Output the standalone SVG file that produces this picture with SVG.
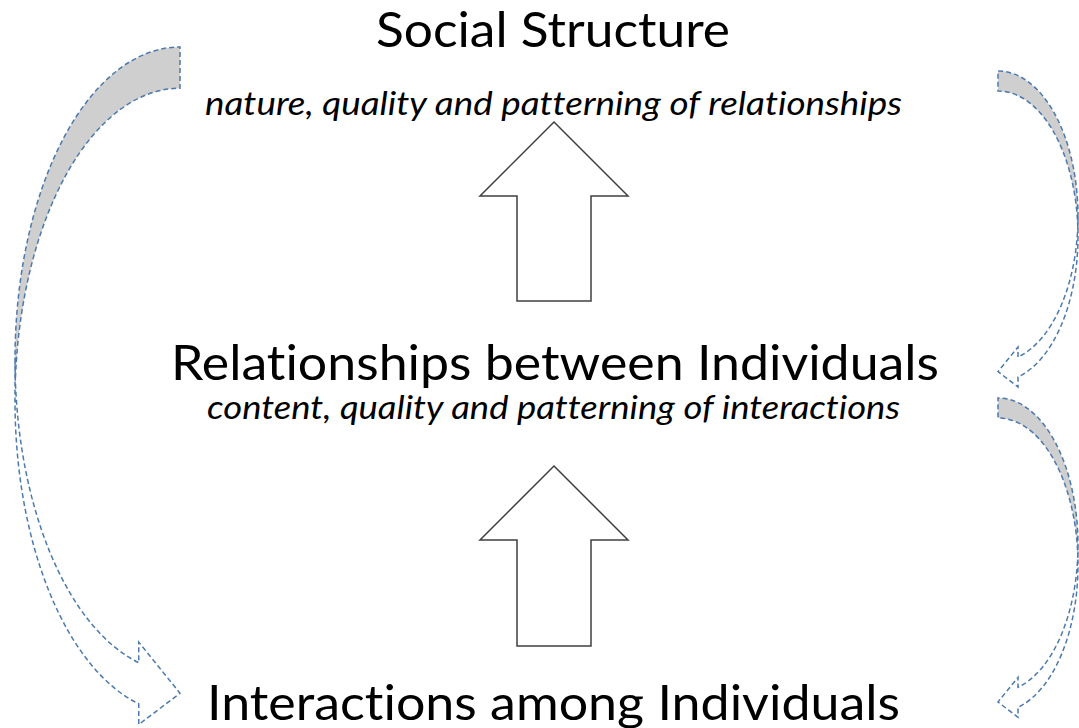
<svg xmlns="http://www.w3.org/2000/svg" width="1079" height="728" viewBox="0 0 1079 728">
<style>
.title{font-family:Lato,"Open Sans","Liberation Sans",sans-serif;font-size:48px;fill:#000;text-anchor:middle;font-variant-ligatures:none}
.sub{font-family:Lato,"Open Sans","Liberation Sans",sans-serif;font-size:32px;font-style:italic;fill:#000;text-anchor:middle;font-variant-ligatures:none}
.block{fill:#fff;stroke:#404040;stroke-width:1.5;stroke-linejoin:miter}
.body{fill:#fff;stroke:none}
.shade{fill:#cfcfcf;stroke:none}
.outline{fill:none;stroke:#4c7aae;stroke-width:1.5;stroke-dasharray:5 3}
</style>
<rect width="1079" height="728" fill="#fff"/>
<g id="node-social-structure">
<text class="title" x="553" y="47" textLength="354" lengthAdjust="spacingAndGlyphs">Social Structure</text>
<text class="sub" x="553.5" y="115" textLength="697" lengthAdjust="spacingAndGlyphs">nature, quality and patterning of relationships</text>
</g>
<g id="node-relationships">
<text class="title" x="555" y="380" textLength="768" lengthAdjust="spacingAndGlyphs">Relationships between Individuals</text>
<text class="sub" x="553.5" y="419" textLength="693" lengthAdjust="spacingAndGlyphs">content, quality and patterning of interactions</text>
</g>
<g id="node-interactions">
<text class="title" x="553.5" y="720" textLength="693" lengthAdjust="spacingAndGlyphs">Interactions among Individuals</text>
</g>
<g id="connectors">
<path class="block" d="M554,122 L628,196 L591,196 L591,301 L517,301 L517,196 L480,196 Z"/>
<path class="block" d="M554,466 L628,540 L591,540 L591,646 L517,646 L517,540 L480,540 Z"/>
<g id="curved-left">
<path class="body" d="M15,359.8 A165,312.8 0 0 0 138.75,662.7 L138.75,642.1 L180,693.25 L138.75,724.5 L138.75,703.9 A165,312.8 0 0 1 15,401.05 Z"/>
<path class="shade" d="M180,47 A165,312.8 0 0 0 15.36,380.4 A165,312.8 0 0 1 180,88.25 Z"/>
<path class="outline" d="M15,359.8 A165,312.8 0 0 0 138.75,662.7 L138.75,642.1 L180,693.25 L138.75,724.5 L138.75,703.9 A165,312.8 0 0 1 15,401.05 L15,359.8 A165,312.8 0 0 1 180,47 L180,88.25 A165,312.8 0 0 0 15.36,380.4"/>
</g>
<g id="curved-right-top">
<path class="body" d="M1078,216.3 A80,145.3 0 0 1 1018,357 L1018,347 L998,371.6 L1018,387 L1018,377 A80,145.3 0 0 0 1078,236.3 Z"/>
<path class="shade" d="M998,71 A80,145.3 0 0 1 1077.8,226.3 A80,145.3 0 0 0 998,91 Z"/>
<path class="outline" d="M1078,216.3 A80,145.3 0 0 1 1018,357 L1018,347 L998,371.6 L1018,387 L1018,377 A80,145.3 0 0 0 1078,236.3 L1078,216.3 A80,145.3 0 0 0 998,71 L998,91 A80,145.3 0 0 1 1077.8,226.3"/>
</g>
<g id="curved-right-bottom">
<path class="body" d="M1078,545 A80,147 0 0 1 1018,687.3 L1018,677.3 L998,702 L1018,717.3 L1018,707.3 A80,147 0 0 0 1078,565 Z"/>
<path class="shade" d="M998,398 A80,147 0 0 1 1077.8,555 A80,147 0 0 0 998,418 Z"/>
<path class="outline" d="M1078,545 A80,147 0 0 1 1018,687.3 L1018,677.3 L998,702 L1018,717.3 L1018,707.3 A80,147 0 0 0 1078,565 L1078,545 A80,147 0 0 0 998,398 L998,418 A80,147 0 0 1 1077.8,555"/>
</g>
</g>
</svg>
